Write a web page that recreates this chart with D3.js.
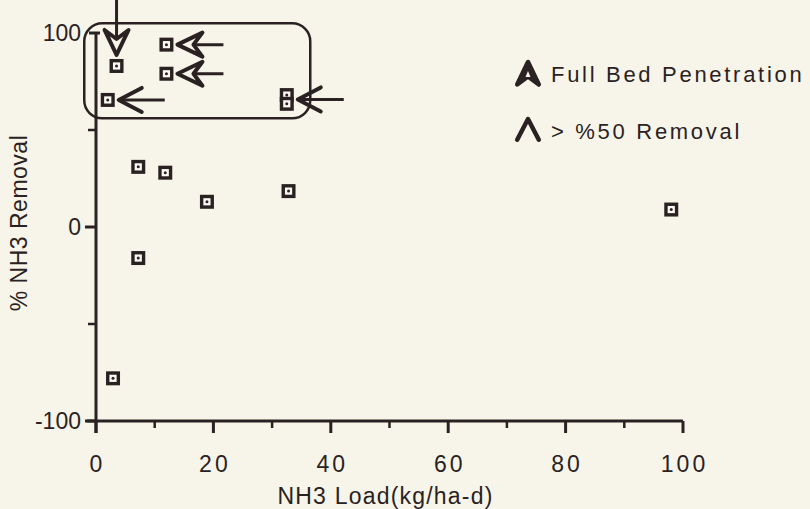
<!DOCTYPE html>
<html>
<head>
<meta charset="utf-8">
<script src="https://cdn.jsdelivr.net/npm/d3@7"></script>
<style>
html, body { margin: 0; padding: 0; background: #f7f5e9; }
svg { display: block; }
text { font-family: "Liberation Sans", Arial, Helvetica, sans-serif; fill: #2a2222; }
</style>
</head>
<body>
<div id="chart"></div>
<script>
// NH3 load (kg/ha-d) and % NH3 removal
var loads   = [3.5, 12, 12, 2, 32.5, 32.5, 7.2, 11.8, 18.9, 32.8, 7.2, 2.9, 98];
var removal = [83, 94, 79, 65.5, 68, 63.5, 31, 28, 13, 18.5, -16, -78, 9];

// arrows: which points they mark (index lists), arrow kind and direction
var arrowPts  = [[0], [1], [2], [3], [4, 5]];
var arrowKind = ["full", "full", "full", "half", "half"];
var arrowDir  = ["down", "left", "left", "left", "left"];

var xTicks = [0, 20, 40, 60, 80, 100];
var xMinor = [10, 30, 50, 70, 90];
var yTicks = [-100, 0, 100];
var yMinor = [-50, 50];

var legendLabels = ["Full Bed Penetration", "> %50 Removal"];
var legendKinds  = ["full", "half"];

var W = 810, H = 509;
var ink = "#2a2222", bg = "#f7f5e9";

var svg = d3.select("#chart").append("svg")
  .attr("width", W).attr("height", H);

svg.append("rect").attr("width", W).attr("height", H).attr("fill", bg);

var x = d3.scaleLinear().domain([0, 100]).range([96, 683]);
var y = d3.scaleLinear().domain([-100, 100]).range([421, 33]);

// x axis
var xAxis = svg.append("g").attr("transform", "translate(0," + y(-100) + ")");
xAxis.append("line").attr("x1", x(0) - 9).attr("x2", x(100))
  .attr("stroke", ink).attr("stroke-width", 3);
xAxis.selectAll(".xt").data(xTicks).enter().append("line")
  .attr("x1", d => x(d)).attr("x2", d => x(d)).attr("y1", 0).attr("y2", 12)
  .attr("stroke", ink).attr("stroke-width", 3);
xAxis.selectAll(".xm").data(xMinor).enter().append("line")
  .attr("x1", d => x(d)).attr("x2", d => x(d)).attr("y1", 0).attr("y2", 7)
  .attr("stroke", ink).attr("stroke-width", 2.5);
xAxis.selectAll(".xl").data(xTicks).enter().append("text")
  .attr("x", d => x(d) + 1.5).attr("y", 51)
  .attr("text-anchor", "middle")
  .attr("font-size", 23).attr("letter-spacing", 3)
  .text(d => d);

// y axis
var yAxis = svg.append("g").attr("transform", "translate(" + x(0) + ",0)");
yAxis.append("line").attr("y1", y(100) - 1).attr("y2", y(-100) + 12)
  .attr("stroke", ink).attr("stroke-width", 3);
yAxis.append("line").attr("y1", y(100)).attr("y2", y(100)).attr("x1", -7).attr("x2", 4)
  .attr("stroke", ink).attr("stroke-width", 3);
yAxis.selectAll(".yt").data(yTicks.slice(0, 2)).enter().append("line")
  .attr("y1", d => y(d)).attr("y2", d => y(d)).attr("x1", -11).attr("x2", 0)
  .attr("stroke", ink).attr("stroke-width", 3);
yAxis.selectAll(".ym").data(yMinor).enter().append("line")
  .attr("y1", d => y(d)).attr("y2", d => y(d)).attr("x1", -8).attr("x2", 0)
  .attr("stroke", ink).attr("stroke-width", 2.5);
yAxis.selectAll(".yl").data(yTicks).enter().append("text")
  .attr("x", -15).attr("y", d => y(d) + 8)
  .attr("text-anchor", "end")
  .attr("font-size", 23)
  .text(d => d);

// axis titles
svg.append("text")
  .attr("x", (x(0) + x(100)) / 2 - 4).attr("y", 504)
  .attr("text-anchor", "middle").attr("font-size", 23).attr("letter-spacing", 1.2)
  .text("NH3 Load(kg/ha-d)");

svg.append("text")
  .attr("transform", "translate(27," + (y(0) - 4) + ") rotate(-90)")
  .attr("text-anchor", "middle").attr("font-size", 23).attr("letter-spacing", 0.5)
  .text("% NH3 Removal");

// rounded box around the high removal group
svg.append("rect")
  .attr("x", x(-2)).attr("y", y(105))
  .attr("width", x(36.5) - x(-2)).attr("height", y(56) - y(105))
  .attr("rx", 18).attr("ry", 18)
  .attr("fill", "none").attr("stroke", ink).attr("stroke-width", 2.5);

// arrowhead shapes, drawn pointing up with tip at 0,0
function headPath(kind) {
  if (kind == "full") return "M0,0 L-12,25 L0,16 L12,25 Z";
  return "M-12,23 L0,0 L12,23";
}

var pts = loads.map((d, i) => ({x: d, y: removal[i]}));

// arrows
arrowPts.forEach(function(idx, k) {
  var px = d3.mean(idx, i => x(pts[i].x));
  var py = d3.mean(idx, i => y(pts[i].y));
  var g = svg.append("g");
  if (arrowDir[k] == "left") {
    g.attr("transform", "translate(" + (px + 11) + "," + py + ") rotate(-90)");
  } else {
    g.attr("transform", "translate(" + px + "," + (py - 11) + ") rotate(180)");
  }
  var len = arrowDir[k] == "left" ? 46 : 58;
  g.append("line").attr("x1", 0).attr("y1", 2).attr("x2", 0).attr("y2", len)
    .attr("stroke", ink).attr("stroke-width", 3);
  g.append("path").attr("d", headPath(arrowKind[k]))
    .attr("fill", arrowKind[k] == "full" ? bg : "none")
    .attr("stroke", ink).attr("stroke-width", 4)
    .attr("stroke-linejoin", "round").attr("stroke-linecap", "round");
});

// data markers
var mk = svg.selectAll(".pt").data(pts).enter().append("g")
  .attr("transform", d => "translate(" + x(d.x) + "," + y(d.y) + ")");
mk.append("rect").attr("x", -5.3).attr("y", -5.3).attr("width", 10.6).attr("height", 10.6)
  .attr("fill", "#fbfaf2").attr("stroke", ink).attr("stroke-width", 3.4);
mk.append("circle").attr("r", 1.5).attr("fill", ink);

// legend
var lg = svg.selectAll(".lg").data(legendLabels).enter().append("g")
  .attr("transform", (d, i) => "translate(528," + (74 + i * 57) + ")");
lg.append("path")
  .attr("d", (d, i) => headPath(legendKinds[i]))
  .attr("transform", "translate(0,-12) scale(0.9)")
  .attr("fill", (d, i) => legendKinds[i] == "full" ? ink : "none")
  .attr("stroke", ink).attr("stroke-width", 5)
  .attr("stroke-linejoin", "round").attr("stroke-linecap", "round");
lg.filter((d, i) => legendKinds[i] == "full").append("path")
  .attr("d", "M0,-3 L-2.5,3 L2.5,3 Z").attr("fill", bg);
lg.append("text").attr("x", 23).attr("y", 8)
  .attr("font-size", 22).attr("letter-spacing", 2.7)
  .text(d => d);
</script>
</body>
</html>
